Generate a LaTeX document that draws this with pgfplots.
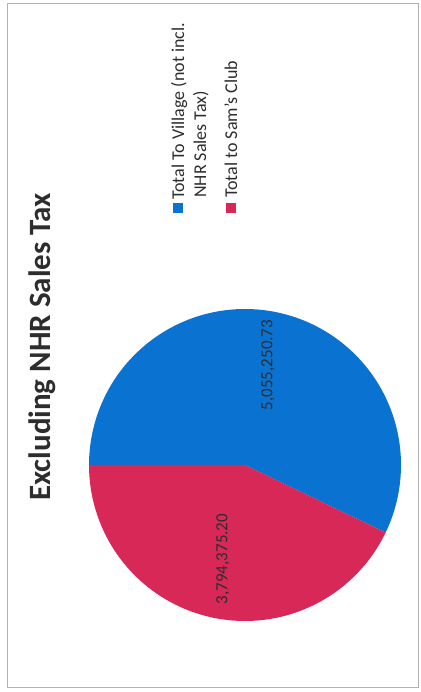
\documentclass[border=0pt]{standalone}
\usepackage{pgfplots}
\pgfplotsset{compat=1.18}
\usepackage{pgfplotstable}
\usepackage{fontspec}
\setmainfont{Carlito}
\definecolor{pieblue}{RGB}{10,114,208}
\definecolor{piered}{RGB}{216,40,88}
\definecolor{txt}{RGB}{45,45,45}
\pgfplotstableread{
label value
Village 5055250.73
Sams 3794375.20
}\piedata
\pgfplotstablegetelem{0}{value}\of\piedata \let\va\pgfplotsretval
\pgfplotstablegetelem{1}{value}\of\piedata \let\vb\pgfplotsretval
\edef\angA{\fpeval{360*\va/(\va+\vb)}}
\edef\startA{\fpeval{180-\angA}}
\edef\endB{\fpeval{180+360-\angA}}
\begin{document}
\begin{tikzpicture}
\begin{axis}[width=420pt,height=692pt,scale only axis,
  xmin=0,xmax=420,ymin=0,ymax=692,axis lines=none,clip=false]
\path[draw=none,fill=white] (axis cs:0,0) rectangle (axis cs:420,692);
\draw[gray!60,line width=1pt] (axis cs:7,4) rectangle (axis cs:418,688);
% pie slices (center 245,227 ; radius 156), starting at "12 o'clock" of the rotated chart
\addplot[fill=pieblue,draw=none,domain=\startA:180,samples=150]
  ({245+156*cos(x)},{227+156*sin(x)}) -- (axis cs:245,227) -- cycle;
\addplot[fill=piered,draw=none,domain=180:\endB,samples=150]
  ({245+156*cos(x)},{227+156*sin(x)}) -- (axis cs:245,227) -- cycle;
% data labels
\node[rotate=90,text=txt,font=\fontsize{17}{20}\selectfont] at (axis cs:268,327) {5,055,250.73};
\node[rotate=90,text=txt,font=\fontsize{17}{20}\selectfont] at (axis cs:223,133) {3,794,375.20};
% title
\node[rotate=90,text=txt,font=\fontsize{31}{36}\selectfont\bfseries] at (axis cs:42,345) {Excluding NHR Sales Tax};
% legend
\fill[pieblue] (axis cs:173,479) rectangle (axis cs:183,489);
\fill[piered] (axis cs:226,479) rectangle (axis cs:236,489);
\node[rotate=90,anchor=base west,inner sep=0,text=txt,font=\fontsize{18}{21}\selectfont] at (axis cs:184,492) {Total To Village (not incl.};
\node[rotate=90,anchor=base west,inner sep=0,text=txt,font=\fontsize{18}{21}\selectfont] at (axis cs:206,494) {NHR Sales Tax)};
\node[rotate=90,anchor=base west,inner sep=0,text=txt,font=\fontsize{18}{21}\selectfont] at (axis cs:237,494) {Total to Sam's Club};
\end{axis}
\end{tikzpicture}
\end{document}
